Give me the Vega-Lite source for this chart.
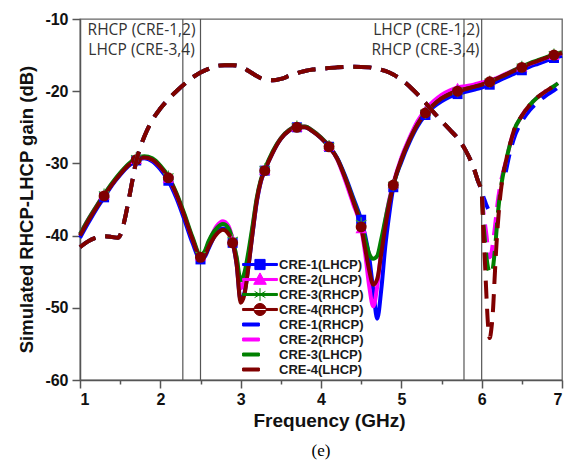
{
  "$schema": "https://vega.github.io/schema/vega-lite/v6.json",
  "width": 482,
  "height": 361,
  "autosize": "none",
  "padding": {"left": 80, "top": 19, "right": 10, "bottom": 80},
  "background": "#ffffff",
  "config": {"view": {"stroke": "#666666", "strokeWidth": 1.3}},
  "title": {"text": "(e)", "orient": "bottom", "anchor": "middle", "font": "Liberation Serif", "fontSize": 17, "fontWeight": "normal", "color": "#000000", "offset": 13},
  "datasets": {
    "vlines": [{"f": 2.28}, {"f": 2.5}, {"f": 5.78}, {"f": 6.0}],
    "notes": [
      {"f": 1.766, "g": -12.2, "t": "RHCP (CRE-1,2)"},
      {"f": 1.766, "g": -15.0, "t": "LHCP (CRE-3,4)"},
      {"f": 5.313, "g": -12.2, "t": "LHCP (CRE-1,2)"},
      {"f": 5.30, "g": -15.0, "t": "RHCP (CRE-3,4)"}
    ],
    "solid": [
      {"f": 1.0, "CRE-1(LHCP)": -40.3, "CRE-2(LHCP)": -39.8, "CRE-3(RHCP)": -39.8, "CRE-4(RHCP)": -40.0, "m": 0},
      {"f": 1.1, "CRE-1(LHCP)": -38.3, "CRE-2(LHCP)": -37.8, "CRE-3(RHCP)": -37.8, "CRE-4(RHCP)": -38.0, "m": 0},
      {"f": 1.2, "CRE-1(LHCP)": -36.4, "CRE-2(LHCP)": -36.0, "CRE-3(RHCP)": -36.0, "CRE-4(RHCP)": -36.2, "m": 0},
      {"f": 1.3, "CRE-1(LHCP)": -34.7, "CRE-2(LHCP)": -34.3, "CRE-3(RHCP)": -34.3, "CRE-4(RHCP)": -34.5, "m": 1},
      {"f": 1.4, "CRE-1(LHCP)": -33.0, "CRE-2(LHCP)": -32.8, "CRE-3(RHCP)": -32.7, "CRE-4(RHCP)": -32.9, "m": 0},
      {"f": 1.5, "CRE-1(LHCP)": -31.6, "CRE-2(LHCP)": -31.4, "CRE-3(RHCP)": -31.3, "CRE-4(RHCP)": -31.5, "m": 0},
      {"f": 1.6, "CRE-1(LHCP)": -30.4, "CRE-2(LHCP)": -30.2, "CRE-3(RHCP)": -30.1, "CRE-4(RHCP)": -30.3, "m": 0},
      {"f": 1.7, "CRE-1(LHCP)": -29.6, "CRE-2(LHCP)": -29.4, "CRE-3(RHCP)": -29.3, "CRE-4(RHCP)": -29.5, "m": 1},
      {"f": 1.8, "CRE-1(LHCP)": -29.3, "CRE-2(LHCP)": -29.2, "CRE-3(RHCP)": -29.0, "CRE-4(RHCP)": -29.2, "m": 0},
      {"f": 1.9, "CRE-1(LHCP)": -29.7, "CRE-2(LHCP)": -29.5, "CRE-3(RHCP)": -29.3, "CRE-4(RHCP)": -29.5, "m": 0},
      {"f": 2.0, "CRE-1(LHCP)": -30.8, "CRE-2(LHCP)": -30.5, "CRE-3(RHCP)": -30.3, "CRE-4(RHCP)": -30.5, "m": 0},
      {"f": 2.1, "CRE-1(LHCP)": -32.4, "CRE-2(LHCP)": -32.0, "CRE-3(RHCP)": -31.8, "CRE-4(RHCP)": -32.0, "m": 1},
      {"f": 2.2, "CRE-1(LHCP)": -34.8, "CRE-2(LHCP)": -34.3, "CRE-3(RHCP)": -34.1, "CRE-4(RHCP)": -34.3, "m": 0},
      {"f": 2.3, "CRE-1(LHCP)": -37.8, "CRE-2(LHCP)": -37.2, "CRE-3(RHCP)": -37.0, "CRE-4(RHCP)": -37.3, "m": 0},
      {"f": 2.4, "CRE-1(LHCP)": -41.0, "CRE-2(LHCP)": -40.4, "CRE-3(RHCP)": -40.2, "CRE-4(RHCP)": -40.5, "m": 0},
      {"f": 2.5, "CRE-1(LHCP)": -43.3, "CRE-2(LHCP)": -42.8, "CRE-3(RHCP)": -42.7, "CRE-4(RHCP)": -43.0, "m": 1},
      {"f": 2.55, "CRE-1(LHCP)": -43.0, "CRE-2(LHCP)": -42.4, "CRE-3(RHCP)": -42.2, "CRE-4(RHCP)": -42.8, "m": 0},
      {"f": 2.6, "CRE-1(LHCP)": -41.8, "CRE-2(LHCP)": -41.0, "CRE-3(RHCP)": -40.8, "CRE-4(RHCP)": -41.6, "m": 0},
      {"f": 2.7, "CRE-1(LHCP)": -39.6, "CRE-2(LHCP)": -38.7, "CRE-3(RHCP)": -39.0, "CRE-4(RHCP)": -39.8, "m": 0},
      {"f": 2.78, "CRE-1(LHCP)": -39.0, "CRE-2(LHCP)": -38.0, "CRE-3(RHCP)": -38.4, "CRE-4(RHCP)": -39.2, "m": 0},
      {"f": 2.85, "CRE-1(LHCP)": -39.5, "CRE-2(LHCP)": -38.7, "CRE-3(RHCP)": -39.0, "CRE-4(RHCP)": -39.8, "m": 0},
      {"f": 2.9, "CRE-1(LHCP)": -41.0, "CRE-2(LHCP)": -40.5, "CRE-3(RHCP)": -40.6, "CRE-4(RHCP)": -41.0, "m": 1},
      {"f": 2.95, "CRE-1(LHCP)": -44.0, "CRE-2(LHCP)": -43.2, "CRE-3(RHCP)": -43.0, "CRE-4(RHCP)": -44.0, "m": 0},
      {"f": 3.0, "CRE-1(LHCP)": -49.0, "CRE-2(LHCP)": -47.3, "CRE-3(RHCP)": -46.2, "CRE-4(RHCP)": -49.3, "m": 0},
      {"f": 3.05, "CRE-1(LHCP)": -47.8, "CRE-2(LHCP)": -46.0, "CRE-3(RHCP)": -45.0, "CRE-4(RHCP)": -48.0, "m": 0},
      {"f": 3.1, "CRE-1(LHCP)": -44.0, "CRE-2(LHCP)": -42.8, "CRE-3(RHCP)": -42.0, "CRE-4(RHCP)": -44.0, "m": 0},
      {"f": 3.15, "CRE-1(LHCP)": -39.5, "CRE-2(LHCP)": -38.8, "CRE-3(RHCP)": -38.5, "CRE-4(RHCP)": -39.5, "m": 0},
      {"f": 3.2, "CRE-1(LHCP)": -35.4, "CRE-2(LHCP)": -35.0, "CRE-3(RHCP)": -34.8, "CRE-4(RHCP)": -35.2, "m": 0},
      {"f": 3.25, "CRE-1(LHCP)": -32.6, "CRE-2(LHCP)": -32.4, "CRE-3(RHCP)": -32.3, "CRE-4(RHCP)": -32.5, "m": 0},
      {"f": 3.3, "CRE-1(LHCP)": -31.0, "CRE-2(LHCP)": -30.9, "CRE-3(RHCP)": -30.8, "CRE-4(RHCP)": -31.0, "m": 1},
      {"f": 3.4, "CRE-1(LHCP)": -28.5, "CRE-2(LHCP)": -28.4, "CRE-3(RHCP)": -28.3, "CRE-4(RHCP)": -28.5, "m": 0},
      {"f": 3.5, "CRE-1(LHCP)": -26.6, "CRE-2(LHCP)": -26.5, "CRE-3(RHCP)": -26.5, "CRE-4(RHCP)": -26.6, "m": 0},
      {"f": 3.6, "CRE-1(LHCP)": -25.5, "CRE-2(LHCP)": -25.4, "CRE-3(RHCP)": -25.4, "CRE-4(RHCP)": -25.5, "m": 0},
      {"f": 3.7, "CRE-1(LHCP)": -25.0, "CRE-2(LHCP)": -24.9, "CRE-3(RHCP)": -24.9, "CRE-4(RHCP)": -25.0, "m": 1},
      {"f": 3.8, "CRE-1(LHCP)": -25.0, "CRE-2(LHCP)": -24.9, "CRE-3(RHCP)": -24.9, "CRE-4(RHCP)": -25.0, "m": 0},
      {"f": 3.9, "CRE-1(LHCP)": -25.6, "CRE-2(LHCP)": -25.5, "CRE-3(RHCP)": -25.5, "CRE-4(RHCP)": -25.6, "m": 0},
      {"f": 4.0, "CRE-1(LHCP)": -26.5, "CRE-2(LHCP)": -26.4, "CRE-3(RHCP)": -26.4, "CRE-4(RHCP)": -26.5, "m": 0},
      {"f": 4.1, "CRE-1(LHCP)": -27.7, "CRE-2(LHCP)": -27.6, "CRE-3(RHCP)": -27.6, "CRE-4(RHCP)": -27.7, "m": 1},
      {"f": 4.2, "CRE-1(LHCP)": -29.2, "CRE-2(LHCP)": -29.4, "CRE-3(RHCP)": -29.3, "CRE-4(RHCP)": -29.3, "m": 0},
      {"f": 4.3, "CRE-1(LHCP)": -31.7, "CRE-2(LHCP)": -32.3, "CRE-3(RHCP)": -31.9, "CRE-4(RHCP)": -32.0, "m": 0},
      {"f": 4.4, "CRE-1(LHCP)": -34.7, "CRE-2(LHCP)": -35.6, "CRE-3(RHCP)": -35.0, "CRE-4(RHCP)": -35.2, "m": 0},
      {"f": 4.5, "CRE-1(LHCP)": -37.8, "CRE-2(LHCP)": -39.0, "CRE-3(RHCP)": -38.3, "CRE-4(RHCP)": -38.8, "m": 1},
      {"f": 4.55, "CRE-1(LHCP)": -40.0, "CRE-2(LHCP)": -42.5, "CRE-3(RHCP)": -40.5, "CRE-4(RHCP)": -41.8, "m": 0},
      {"f": 4.6, "CRE-1(LHCP)": -43.0, "CRE-2(LHCP)": -47.0, "CRE-3(RHCP)": -42.5, "CRE-4(RHCP)": -44.8, "m": 0},
      {"f": 4.65, "CRE-1(LHCP)": -47.5, "CRE-2(LHCP)": -49.8, "CRE-3(RHCP)": -43.2, "CRE-4(RHCP)": -46.8, "m": 0},
      {"f": 4.7, "CRE-1(LHCP)": -51.5, "CRE-2(LHCP)": -47.0, "CRE-3(RHCP)": -42.8, "CRE-4(RHCP)": -46.0, "m": 0},
      {"f": 4.75, "CRE-1(LHCP)": -47.5, "CRE-2(LHCP)": -42.0, "CRE-3(RHCP)": -40.5, "CRE-4(RHCP)": -42.5, "m": 0},
      {"f": 4.8, "CRE-1(LHCP)": -41.5, "CRE-2(LHCP)": -38.0, "CRE-3(RHCP)": -37.8, "CRE-4(RHCP)": -38.8, "m": 0},
      {"f": 4.85, "CRE-1(LHCP)": -37.0, "CRE-2(LHCP)": -35.0, "CRE-3(RHCP)": -35.2, "CRE-4(RHCP)": -35.6, "m": 0},
      {"f": 4.9, "CRE-1(LHCP)": -33.3, "CRE-2(LHCP)": -32.8, "CRE-3(RHCP)": -33.0, "CRE-4(RHCP)": -33.0, "m": 1},
      {"f": 5.0, "CRE-1(LHCP)": -29.8, "CRE-2(LHCP)": -29.2, "CRE-3(RHCP)": -29.5, "CRE-4(RHCP)": -29.5, "m": 0},
      {"f": 5.1, "CRE-1(LHCP)": -27.1, "CRE-2(LHCP)": -26.5, "CRE-3(RHCP)": -26.8, "CRE-4(RHCP)": -26.8, "m": 0},
      {"f": 5.2, "CRE-1(LHCP)": -24.9, "CRE-2(LHCP)": -24.2, "CRE-3(RHCP)": -24.6, "CRE-4(RHCP)": -24.6, "m": 0},
      {"f": 5.3, "CRE-1(LHCP)": -23.3, "CRE-2(LHCP)": -22.6, "CRE-3(RHCP)": -23.0, "CRE-4(RHCP)": -23.0, "m": 1},
      {"f": 5.4, "CRE-1(LHCP)": -22.2, "CRE-2(LHCP)": -21.4, "CRE-3(RHCP)": -21.9, "CRE-4(RHCP)": -21.9, "m": 0},
      {"f": 5.5, "CRE-1(LHCP)": -21.4, "CRE-2(LHCP)": -20.5, "CRE-3(RHCP)": -21.0, "CRE-4(RHCP)": -21.0, "m": 0},
      {"f": 5.6, "CRE-1(LHCP)": -20.8, "CRE-2(LHCP)": -19.9, "CRE-3(RHCP)": -20.4, "CRE-4(RHCP)": -20.4, "m": 0},
      {"f": 5.7, "CRE-1(LHCP)": -20.4, "CRE-2(LHCP)": -19.5, "CRE-3(RHCP)": -20.0, "CRE-4(RHCP)": -20.0, "m": 1},
      {"f": 5.8, "CRE-1(LHCP)": -20.1, "CRE-2(LHCP)": -19.3, "CRE-3(RHCP)": -19.7, "CRE-4(RHCP)": -19.7, "m": 0},
      {"f": 5.9, "CRE-1(LHCP)": -19.8, "CRE-2(LHCP)": -19.1, "CRE-3(RHCP)": -19.4, "CRE-4(RHCP)": -19.4, "m": 0},
      {"f": 6.0, "CRE-1(LHCP)": -19.5, "CRE-2(LHCP)": -18.8, "CRE-3(RHCP)": -19.1, "CRE-4(RHCP)": -19.1, "m": 0},
      {"f": 6.1, "CRE-1(LHCP)": -19.1, "CRE-2(LHCP)": -18.5, "CRE-3(RHCP)": -18.7, "CRE-4(RHCP)": -18.7, "m": 1},
      {"f": 6.2, "CRE-1(LHCP)": -18.6, "CRE-2(LHCP)": -18.1, "CRE-3(RHCP)": -18.2, "CRE-4(RHCP)": -18.2, "m": 0},
      {"f": 6.3, "CRE-1(LHCP)": -18.1, "CRE-2(LHCP)": -17.6, "CRE-3(RHCP)": -17.7, "CRE-4(RHCP)": -17.7, "m": 0},
      {"f": 6.4, "CRE-1(LHCP)": -17.6, "CRE-2(LHCP)": -17.1, "CRE-3(RHCP)": -17.1, "CRE-4(RHCP)": -17.2, "m": 0},
      {"f": 6.5, "CRE-1(LHCP)": -17.1, "CRE-2(LHCP)": -16.6, "CRE-3(RHCP)": -16.6, "CRE-4(RHCP)": -16.7, "m": 1},
      {"f": 6.6, "CRE-1(LHCP)": -16.6, "CRE-2(LHCP)": -16.2, "CRE-3(RHCP)": -16.1, "CRE-4(RHCP)": -16.2, "m": 0},
      {"f": 6.7, "CRE-1(LHCP)": -16.2, "CRE-2(LHCP)": -15.8, "CRE-3(RHCP)": -15.7, "CRE-4(RHCP)": -15.8, "m": 0},
      {"f": 6.8, "CRE-1(LHCP)": -15.8, "CRE-2(LHCP)": -15.4, "CRE-3(RHCP)": -15.3, "CRE-4(RHCP)": -15.4, "m": 0},
      {"f": 6.9, "CRE-1(LHCP)": -15.4, "CRE-2(LHCP)": -15.0, "CRE-3(RHCP)": -14.9, "CRE-4(RHCP)": -15.0, "m": 1},
      {"f": 7.0, "CRE-1(LHCP)": -15.1, "CRE-2(LHCP)": -14.7, "CRE-3(RHCP)": -14.6, "CRE-4(RHCP)": -14.7, "m": 0}
    ],
    "dashed": [
      {"f": 1.0, "CRE-1(RHCP)": -41.6, "CRE-2(RHCP)": -41.6, "CRE-3(LHCP)": -41.6, "CRE-4(LHCP)": -41.6},
      {"f": 1.1, "CRE-1(RHCP)": -40.8, "CRE-2(RHCP)": -40.8, "CRE-3(LHCP)": -40.8, "CRE-4(LHCP)": -40.8},
      {"f": 1.2, "CRE-1(RHCP)": -40.3, "CRE-2(RHCP)": -40.3, "CRE-3(LHCP)": -40.3, "CRE-4(LHCP)": -40.3},
      {"f": 1.3, "CRE-1(RHCP)": -40.1, "CRE-2(RHCP)": -40.1, "CRE-3(LHCP)": -40.1, "CRE-4(LHCP)": -40.1},
      {"f": 1.4, "CRE-1(RHCP)": -40.2, "CRE-2(RHCP)": -40.2, "CRE-3(LHCP)": -40.2, "CRE-4(LHCP)": -40.2},
      {"f": 1.47, "CRE-1(RHCP)": -40.3, "CRE-2(RHCP)": -40.3, "CRE-3(LHCP)": -40.3, "CRE-4(LHCP)": -40.3},
      {"f": 1.52, "CRE-1(RHCP)": -39.4, "CRE-2(RHCP)": -39.4, "CRE-3(LHCP)": -39.4, "CRE-4(LHCP)": -39.4},
      {"f": 1.56, "CRE-1(RHCP)": -37.6, "CRE-2(RHCP)": -37.6, "CRE-3(LHCP)": -37.6, "CRE-4(LHCP)": -37.6},
      {"f": 1.6, "CRE-1(RHCP)": -35.4, "CRE-2(RHCP)": -35.4, "CRE-3(LHCP)": -35.4, "CRE-4(LHCP)": -35.4},
      {"f": 1.65, "CRE-1(RHCP)": -32.5, "CRE-2(RHCP)": -32.5, "CRE-3(LHCP)": -32.5, "CRE-4(LHCP)": -32.5},
      {"f": 1.7, "CRE-1(RHCP)": -29.7, "CRE-2(RHCP)": -29.7, "CRE-3(LHCP)": -29.7, "CRE-4(LHCP)": -29.7},
      {"f": 1.75, "CRE-1(RHCP)": -27.8, "CRE-2(RHCP)": -27.8, "CRE-3(LHCP)": -27.8, "CRE-4(LHCP)": -27.8},
      {"f": 1.8, "CRE-1(RHCP)": -26.3, "CRE-2(RHCP)": -26.3, "CRE-3(LHCP)": -26.3, "CRE-4(LHCP)": -26.3},
      {"f": 1.9, "CRE-1(RHCP)": -24.0, "CRE-2(RHCP)": -24.0, "CRE-3(LHCP)": -24.0, "CRE-4(LHCP)": -24.0},
      {"f": 2.0, "CRE-1(RHCP)": -22.4, "CRE-2(RHCP)": -22.4, "CRE-3(LHCP)": -22.4, "CRE-4(LHCP)": -22.4},
      {"f": 2.1, "CRE-1(RHCP)": -21.1, "CRE-2(RHCP)": -21.1, "CRE-3(LHCP)": -21.1, "CRE-4(LHCP)": -21.1},
      {"f": 2.2, "CRE-1(RHCP)": -20.0, "CRE-2(RHCP)": -20.0, "CRE-3(LHCP)": -20.0, "CRE-4(LHCP)": -20.0},
      {"f": 2.3, "CRE-1(RHCP)": -19.0, "CRE-2(RHCP)": -19.0, "CRE-3(LHCP)": -19.0, "CRE-4(LHCP)": -19.0},
      {"f": 2.4, "CRE-1(RHCP)": -18.1, "CRE-2(RHCP)": -18.1, "CRE-3(LHCP)": -18.1, "CRE-4(LHCP)": -18.1},
      {"f": 2.5, "CRE-1(RHCP)": -17.4, "CRE-2(RHCP)": -17.4, "CRE-3(LHCP)": -17.4, "CRE-4(LHCP)": -17.4},
      {"f": 2.6, "CRE-1(RHCP)": -16.9, "CRE-2(RHCP)": -16.9, "CRE-3(LHCP)": -16.9, "CRE-4(LHCP)": -16.9},
      {"f": 2.7, "CRE-1(RHCP)": -16.5, "CRE-2(RHCP)": -16.5, "CRE-3(LHCP)": -16.5, "CRE-4(LHCP)": -16.5},
      {"f": 2.8, "CRE-1(RHCP)": -16.4, "CRE-2(RHCP)": -16.4, "CRE-3(LHCP)": -16.4, "CRE-4(LHCP)": -16.4},
      {"f": 2.9, "CRE-1(RHCP)": -16.4, "CRE-2(RHCP)": -16.4, "CRE-3(LHCP)": -16.4, "CRE-4(LHCP)": -16.4},
      {"f": 3.0, "CRE-1(RHCP)": -16.6, "CRE-2(RHCP)": -16.6, "CRE-3(LHCP)": -16.6, "CRE-4(LHCP)": -16.6},
      {"f": 3.1, "CRE-1(RHCP)": -17.2, "CRE-2(RHCP)": -17.2, "CRE-3(LHCP)": -17.2, "CRE-4(LHCP)": -17.2},
      {"f": 3.2, "CRE-1(RHCP)": -17.9, "CRE-2(RHCP)": -17.9, "CRE-3(LHCP)": -17.9, "CRE-4(LHCP)": -17.9},
      {"f": 3.3, "CRE-1(RHCP)": -18.4, "CRE-2(RHCP)": -18.4, "CRE-3(LHCP)": -18.4, "CRE-4(LHCP)": -18.4},
      {"f": 3.4, "CRE-1(RHCP)": -18.5, "CRE-2(RHCP)": -18.5, "CRE-3(LHCP)": -18.5, "CRE-4(LHCP)": -18.5},
      {"f": 3.5, "CRE-1(RHCP)": -18.3, "CRE-2(RHCP)": -18.3, "CRE-3(LHCP)": -18.3, "CRE-4(LHCP)": -18.3},
      {"f": 3.6, "CRE-1(RHCP)": -17.9, "CRE-2(RHCP)": -17.9, "CRE-3(LHCP)": -17.9, "CRE-4(LHCP)": -17.9},
      {"f": 3.7, "CRE-1(RHCP)": -17.5, "CRE-2(RHCP)": -17.5, "CRE-3(LHCP)": -17.5, "CRE-4(LHCP)": -17.5},
      {"f": 3.8, "CRE-1(RHCP)": -17.2, "CRE-2(RHCP)": -17.2, "CRE-3(LHCP)": -17.2, "CRE-4(LHCP)": -17.2},
      {"f": 3.9, "CRE-1(RHCP)": -17.0, "CRE-2(RHCP)": -17.0, "CRE-3(LHCP)": -17.0, "CRE-4(LHCP)": -17.0},
      {"f": 4.0, "CRE-1(RHCP)": -16.9, "CRE-2(RHCP)": -16.9, "CRE-3(LHCP)": -16.9, "CRE-4(LHCP)": -16.9},
      {"f": 4.2, "CRE-1(RHCP)": -16.7, "CRE-2(RHCP)": -16.7, "CRE-3(LHCP)": -16.7, "CRE-4(LHCP)": -16.7},
      {"f": 4.4, "CRE-1(RHCP)": -16.6, "CRE-2(RHCP)": -16.6, "CRE-3(LHCP)": -16.6, "CRE-4(LHCP)": -16.6},
      {"f": 4.6, "CRE-1(RHCP)": -16.7, "CRE-2(RHCP)": -16.7, "CRE-3(LHCP)": -16.7, "CRE-4(LHCP)": -16.7},
      {"f": 4.7, "CRE-1(RHCP)": -16.9, "CRE-2(RHCP)": -16.9, "CRE-3(LHCP)": -16.9, "CRE-4(LHCP)": -16.9},
      {"f": 4.8, "CRE-1(RHCP)": -17.2, "CRE-2(RHCP)": -17.2, "CRE-3(LHCP)": -17.2, "CRE-4(LHCP)": -17.2},
      {"f": 4.9, "CRE-1(RHCP)": -17.7, "CRE-2(RHCP)": -17.7, "CRE-3(LHCP)": -17.7, "CRE-4(LHCP)": -17.7},
      {"f": 5.0, "CRE-1(RHCP)": -18.4, "CRE-2(RHCP)": -18.4, "CRE-3(LHCP)": -18.4, "CRE-4(LHCP)": -18.4},
      {"f": 5.1, "CRE-1(RHCP)": -19.3, "CRE-2(RHCP)": -19.3, "CRE-3(LHCP)": -19.3, "CRE-4(LHCP)": -19.3},
      {"f": 5.2, "CRE-1(RHCP)": -20.4, "CRE-2(RHCP)": -20.4, "CRE-3(LHCP)": -20.4, "CRE-4(LHCP)": -20.4},
      {"f": 5.3, "CRE-1(RHCP)": -21.6, "CRE-2(RHCP)": -21.6, "CRE-3(LHCP)": -21.6, "CRE-4(LHCP)": -21.6},
      {"f": 5.4, "CRE-1(RHCP)": -22.9, "CRE-2(RHCP)": -22.9, "CRE-3(LHCP)": -22.9, "CRE-4(LHCP)": -22.9},
      {"f": 5.5, "CRE-1(RHCP)": -24.1, "CRE-2(RHCP)": -24.1, "CRE-3(LHCP)": -24.1, "CRE-4(LHCP)": -24.1},
      {"f": 5.6, "CRE-1(RHCP)": -25.3, "CRE-2(RHCP)": -25.3, "CRE-3(LHCP)": -25.3, "CRE-4(LHCP)": -25.3},
      {"f": 5.7, "CRE-1(RHCP)": -26.5, "CRE-2(RHCP)": -26.5, "CRE-3(LHCP)": -26.5, "CRE-4(LHCP)": -26.5},
      {"f": 5.8, "CRE-1(RHCP)": -28.2, "CRE-2(RHCP)": -28.2, "CRE-3(LHCP)": -28.2, "CRE-4(LHCP)": -28.2},
      {"f": 5.9, "CRE-1(RHCP)": -30.6, "CRE-2(RHCP)": -30.6, "CRE-3(LHCP)": -30.6, "CRE-4(LHCP)": -30.6},
      {"f": 5.95, "CRE-1(RHCP)": -32.3, "CRE-2(RHCP)": -32.3, "CRE-3(LHCP)": -32.3, "CRE-4(LHCP)": -32.3},
      {"f": 6.0, "CRE-1(RHCP)": -33.8, "CRE-2(RHCP)": -34.0, "CRE-3(LHCP)": -34.0, "CRE-4(LHCP)": -34.2},
      {"f": 6.02, "CRE-1(RHCP)": -34.6, "CRE-2(RHCP)": -36.6, "CRE-3(LHCP)": -38.0, "CRE-4(LHCP)": -39.2},
      {"f": 6.04, "CRE-1(RHCP)": -35.2, "CRE-2(RHCP)": -38.3, "CRE-3(LHCP)": -40.6, "CRE-4(LHCP)": -43.5},
      {"f": 6.06, "CRE-1(RHCP)": -35.8, "CRE-2(RHCP)": -40.0, "CRE-3(LHCP)": -43.0, "CRE-4(LHCP)": -48.5},
      {"f": 6.08, "CRE-1(RHCP)": -36.3, "CRE-2(RHCP)": -42.0, "CRE-3(LHCP)": -44.5, "CRE-4(LHCP)": -52.5},
      {"f": 6.1, "CRE-1(RHCP)": null, "CRE-2(RHCP)": -43.0, "CRE-3(LHCP)": -45.1, "CRE-4(LHCP)": -54.2},
      {"f": 6.12, "CRE-1(RHCP)": null, "CRE-2(RHCP)": -42.5, "CRE-3(LHCP)": -45.3, "CRE-4(LHCP)": -53.0},
      {"f": 6.14, "CRE-1(RHCP)": null, "CRE-2(RHCP)": -41.0, "CRE-3(LHCP)": -44.5, "CRE-4(LHCP)": -50.5},
      {"f": 6.16, "CRE-1(RHCP)": null, "CRE-2(RHCP)": -39.3, "CRE-3(LHCP)": -42.5, "CRE-4(LHCP)": -46.2},
      {"f": 6.18, "CRE-1(RHCP)": null, "CRE-2(RHCP)": -37.3, "CRE-3(LHCP)": -40.0, "CRE-4(LHCP)": -42.0},
      {"f": 6.2, "CRE-1(RHCP)": null, "CRE-2(RHCP)": -35.3, "CRE-3(LHCP)": -37.2, "CRE-4(LHCP)": -38.6},
      {"f": 6.22, "CRE-1(RHCP)": null, "CRE-2(RHCP)": -33.8, "CRE-3(LHCP)": -35.0, "CRE-4(LHCP)": -35.8},
      {"f": 6.25, "CRE-1(RHCP)": null, "CRE-2(RHCP)": -32.0, "CRE-3(LHCP)": -32.6, "CRE-4(LHCP)": -32.8},
      {"f": 6.3, "CRE-1(RHCP)": -31.2, "CRE-2(RHCP)": -29.8, "CRE-3(LHCP)": -29.8, "CRE-4(LHCP)": -29.8},
      {"f": 6.35, "CRE-1(RHCP)": -28.6, "CRE-2(RHCP)": -27.5, "CRE-3(LHCP)": -27.5, "CRE-4(LHCP)": -27.5},
      {"f": 6.4, "CRE-1(RHCP)": -26.6, "CRE-2(RHCP)": -25.6, "CRE-3(LHCP)": -25.5, "CRE-4(LHCP)": -25.5},
      {"f": 6.5, "CRE-1(RHCP)": -24.2, "CRE-2(RHCP)": -23.4, "CRE-3(LHCP)": -23.4, "CRE-4(LHCP)": -23.4},
      {"f": 6.6, "CRE-1(RHCP)": -22.6, "CRE-2(RHCP)": -21.9, "CRE-3(LHCP)": -21.9, "CRE-4(LHCP)": -21.9},
      {"f": 6.7, "CRE-1(RHCP)": -21.5, "CRE-2(RHCP)": -20.8, "CRE-3(LHCP)": -20.8, "CRE-4(LHCP)": -20.8},
      {"f": 6.8, "CRE-1(RHCP)": -20.6, "CRE-2(RHCP)": -20.0, "CRE-3(LHCP)": -20.0, "CRE-4(LHCP)": -20.0},
      {"f": 6.9, "CRE-1(RHCP)": -19.9, "CRE-2(RHCP)": -19.3, "CRE-3(LHCP)": -19.3, "CRE-4(LHCP)": -19.3},
      {"f": 6.95, "CRE-1(RHCP)": -19.5, "CRE-2(RHCP)": -18.9, "CRE-3(LHCP)": -18.9, "CRE-4(LHCP)": -18.9}
    ]
  },
  "encoding": {
    "x": {
      "field": "f", "type": "quantitative",
      "scale": {"domain": [1, 7], "nice": false, "zero": false},
      "axis": {
        "values": [1, 1.5, 2, 2.5, 3, 3.5, 4, 4.5, 5, 5.5, 6, 6.5, 7],
        "labelExpr": "datum.value % 1 === 0 ? '' + datum.value : ''",
        "tickSize": {"condition": {"test": "datum.value % 1 === 0", "value": 8}, "value": 4},
        "labelOverlap": false, "grid": false,
        "domainColor": "#555555", "domainWidth": 1.5, "tickColor": "#555555", "tickWidth": 1.5,
        "labelFont": "Liberation Sans", "labelFontWeight": "bold", "labelFontSize": 16, "labelColor": "#111111", "labelPadding": 3,
        "title": "Frequency (GHz)", "titleFont": "Liberation Sans", "titleFontWeight": "bold", "titleFontSize": 19, "titleColor": "#111111",
        "titleX": 249, "titleY": 46, "titleBaseline": "alphabetic", "titleAlign": "center"
      }
    }
  },
  "layer": [
    {
      "data": {"name": "vlines"},
      "mark": {"type": "rule", "color": "#555555", "strokeWidth": 1.2},
      "encoding": {}
    },
    {
      "data": {"name": "solid"},
      "transform": [{"fold": ["CRE-1(LHCP)", "CRE-2(LHCP)", "CRE-3(RHCP)", "CRE-4(RHCP)"], "as": ["series", "gain"]}],
      "mark": {"type": "line", "interpolate": "monotone", "strokeWidth": 4, "strokeJoin": "round"},
      "encoding": {
        "y": {
          "field": "gain", "type": "quantitative",
          "scale": {"domain": [-60, -10], "nice": false, "zero": false},
          "axis": {
            "values": [-60, -55, -50, -45, -40, -35, -30, -25, -20, -15, -10],
            "labelExpr": "datum.value % 10 === 0 ? '-' + abs(datum.value) : ''",
            "tickSize": {"condition": {"test": "datum.value % 10 === 0", "value": 8}, "value": 4},
            "labelOverlap": false, "grid": false,
            "domainColor": "#555555", "domainWidth": 1.5, "tickColor": "#555555", "tickWidth": 1.5,
            "labelFont": "Liberation Sans", "labelFontWeight": "bold", "labelFontSize": 16, "labelColor": "#111111", "labelPadding": 4,
            "title": "Simulated RHCP-LHCP gain (dB)", "titleFont": "Liberation Sans", "titleFontWeight": "bold", "titleFontSize": 18.5, "titleColor": "#111111",
            "titleX": -54, "titleY": 190, "titleBaseline": "middle", "titleAlign": "center", "titleAngle": -90
          }
        },
        "color": {
          "field": "series", "type": "nominal",
          "scale": {
            "domain": ["CRE-1(LHCP)", "CRE-2(LHCP)", "CRE-3(RHCP)", "CRE-4(RHCP)", "CRE-1(RHCP)", "CRE-2(RHCP)", "CRE-3(LHCP)", "CRE-4(LHCP)"],
            "range": ["#0000ff", "#ff00ff", "#008000", "#800000", "#0000ff", "#ff00ff", "#008000", "#800000"]
          },
          "legend": {
            "title": null, "orient": "none", "legendX": 173.5, "legendY": 239, "padding": 0, "rowPadding": -3, "gridAlign": "all",
            "symbolSize": 144, "symbolStrokeWidth": 1, "symbolOpacity": 1,
            "labelFont": "Liberation Sans", "labelFontWeight": "bold", "labelFontSize": 13, "labelColor": "#1a1a1a", "labelOffset": 12.5,
            "encode": {
              "symbols": {
                "update": {
                  "shape": {"signal": "datum.value === 'CRE-1(LHCP)' ? 'M-2.9,-0.17H2.9V0.17H-2.9ZM-0.85,-0.85H0.85V0.85H-0.85Z' : datum.value === 'CRE-2(LHCP)' ? 'M-2.9,-0.17H2.9V0.17H-2.9ZM0,-1.1L1.05,0.8H-1.05Z' : datum.value === 'CRE-3(RHCP)' ? 'M-2.9,-0.17H2.9V0.17H-2.9ZM0,-1.05V1.05M-0.9,-0.52L0.9,0.52M-0.9,0.52L0.9,-0.52' : datum.value === 'CRE-4(RHCP)' ? 'M-2.9,-0.17H2.9V0.17H-2.9ZM-1,0A1,1,0,1,0,1,0A1,1,0,1,0,-1,0Z' : 'M-2.9,-0.25H-0.1V0.25H-2.9Z'"},
                  "fill": {"signal": "scale('color', datum.value)"},
                  "stroke": {"signal": "scale('color', datum.value)"}
                }
              }
            }
          }
        }
      }
    },
    {
      "data": {"name": "solid"},
      "transform": [{"filter": "datum.m == 1"}],
      "mark": {"type": "point", "shape": "square", "filled": true, "size": 100, "color": "#0000ff", "opacity": 1},
      "encoding": {"y": {"field": "CRE-1(LHCP)", "type": "quantitative", "scale": {"domain": [-60, -10], "nice": false, "zero": false}}}
    },
    {
      "data": {"name": "solid"},
      "transform": [{"filter": "datum.m == 1"}],
      "mark": {"type": "point", "shape": "triangle-up", "filled": true, "size": 130, "color": "#ff00ff", "opacity": 1},
      "encoding": {"y": {"field": "CRE-2(LHCP)", "type": "quantitative", "scale": {"domain": [-60, -10], "nice": false, "zero": false}}}
    },
    {
      "data": {"name": "solid"},
      "transform": [{"filter": "datum.m == 1"}],
      "mark": {"type": "point", "shape": "M0,-1V1M-0.87,-0.5L0.87,0.5M-0.87,0.5L0.87,-0.5", "filled": false, "size": 144, "color": "#33aa33", "strokeWidth": 1.2, "opacity": 1},
      "encoding": {"y": {"field": "CRE-3(RHCP)", "type": "quantitative", "scale": {"domain": [-60, -10], "nice": false, "zero": false}}}
    },
    {
      "data": {"name": "solid"},
      "transform": [{"filter": "datum.m == 1"}],
      "mark": {"type": "point", "shape": "circle", "filled": true, "size": 120, "color": "#800000", "opacity": 1},
      "encoding": {"y": {"field": "CRE-4(RHCP)", "type": "quantitative", "scale": {"domain": [-60, -10], "nice": false, "zero": false}}}
    },
    {
      "data": {"name": "dashed"},
      "transform": [{"fold": ["CRE-1(RHCP)", "CRE-2(RHCP)", "CRE-3(LHCP)", "CRE-4(LHCP)"], "as": ["series", "gain"]}],
      "mark": {"type": "line", "interpolate": "monotone", "strokeWidth": 4, "strokeDash": [18, 10], "strokeCap": "butt", "invalid": "break-paths-filter-domains"},
      "encoding": {
        "y": {"field": "gain", "type": "quantitative", "scale": {"domain": [-60, -10], "nice": false, "zero": false}},
        "color": {
          "field": "series", "type": "nominal",
          "scale": {
            "domain": ["CRE-1(LHCP)", "CRE-2(LHCP)", "CRE-3(RHCP)", "CRE-4(RHCP)", "CRE-1(RHCP)", "CRE-2(RHCP)", "CRE-3(LHCP)", "CRE-4(LHCP)"],
            "range": ["#0000ff", "#ff00ff", "#008000", "#800000", "#0000ff", "#ff00ff", "#008000", "#800000"]
          }
        }
      }
    },
    {
      "data": {"name": "notes"},
      "mark": {"type": "text", "font": "Open Sans", "fontSize": 15.5, "color": "#333333", "align": "center", "baseline": "alphabetic"},
      "encoding": {
        "y": {"field": "g", "type": "quantitative", "scale": {"domain": [-60, -10], "nice": false, "zero": false}},
        "text": {"field": "t"}
      }
    }
  ]
}
